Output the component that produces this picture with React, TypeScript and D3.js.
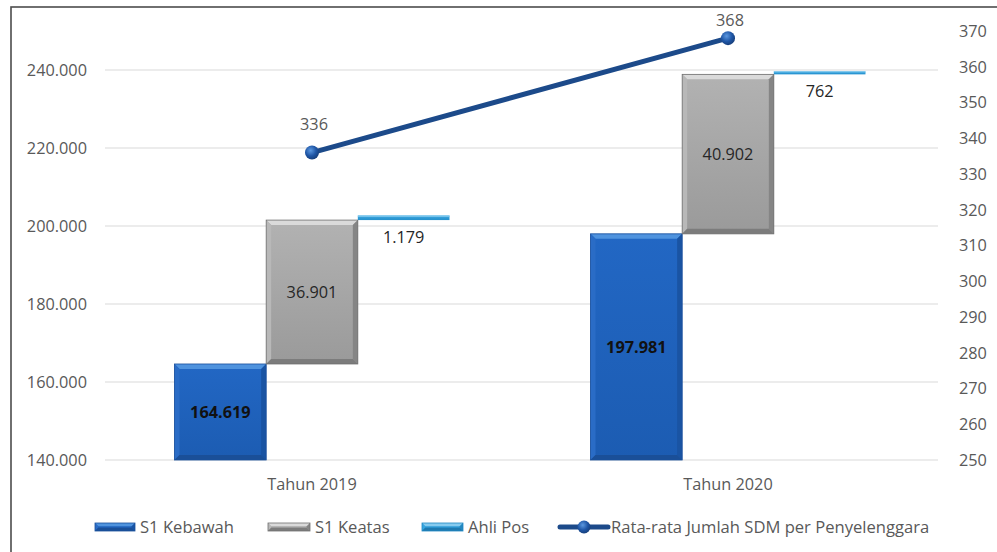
import React from "react";
import * as d3 from "d3";

const categories = ["Tahun 2019", "Tahun 2020"];
const seriesNames = ["S1 Kebawah", "S1 Keatas", "Ahli Pos"];
const s1Kebawah = [164619, 197981];
const s1Keatas = [36901, 40902];
const ahliPos = [1179, 762];
const lineName = "Rata-rata Jumlah SDM per Penyelenggara";
const rataRata = [336, 368];
const leftTicks = [140000, 160000, 180000, 200000, 220000, 240000];
const rightTicks = [250, 260, 270, 280, 290, 300, 310, 320, 330, 340, 350, 360, 370];

const W = 997;
const H = 552;
const FONT = "'Open Sans', sans-serif";
const GREY = "#595959";

const locale = d3.formatLocale({ decimal: ",", thousands: ".", grouping: [3], currency: ["Rp", ""] });
const fmt = locale.format(",d");

const palette = [
  { id: "gb", main0: "#2267c4", main1: "#1c5cb2", top: "#4f93de", left: "#2a6cc6", right: "#1a54a3", bottom: "#1a4f98", stroke: "#1b509c" },
  { id: "gg", main0: "#b2b2b2", main1: "#9a9a9a", top: "#dadada", left: "#b8b8b8", right: "#858585", bottom: "#7c7c7c", stroke: "#707070" },
  { id: "gc", main0: "#36a6e0", main1: "#2690cc", top: "#86cbef", left: "#36a6e0", right: "#2488c0", bottom: "#1e7ab0", stroke: "#2288c2" },
];

function BevelBar({ x, y, w, h, c }: { x: number; y: number; w: number; h: number; c: any }) {
  const b = Math.min(5, h / 2.5, w / 4);
  if (h < 8) {
    return (
      <g>
        <rect x={x} y={y} width={w} height={h} fill={`url(#${c.id})`} />
        <rect x={x} y={y} width={w} height={Math.max(1, h * 0.35)} fill={c.top} opacity={0.8} />
      </g>
    );
  }
  return (
    <g>
      <rect x={x} y={y} width={w} height={h} fill={`url(#${c.id})`} />
      <polygon points={`${x},${y} ${x + w},${y} ${x + w - b},${y + b} ${x + b},${y + b}`} fill={c.top} />
      <polygon points={`${x},${y} ${x + b},${y + b} ${x + b},${y + h - b} ${x},${y + h}`} fill={c.left} />
      <polygon points={`${x + w},${y} ${x + w - b},${y + b} ${x + w - b},${y + h - b} ${x + w},${y + h}`} fill={c.right} />
      <polygon points={`${x},${y + h} ${x + b},${y + h - b} ${x + w - b},${y + h - b} ${x + w},${y + h}`} fill={c.bottom} />
      <rect x={x} y={y} width={w} height={h} fill="none" stroke={c.stroke} strokeWidth={0.8} />
    </g>
  );
}

export default function App() {
  const plotLeft = 104;
  const plotRight = 936;
  const gridLeft = 105;
  const gridRight = 938;

  const x = d3.scaleBand<string>().domain(categories).range([plotLeft, plotRight]).padding(0);
  const groupW = x.bandwidth() * 0.661;
  const inner = d3.scaleBand<string>().domain(seriesNames).range([0, groupW]).padding(0);
  const yL = d3.scaleLinear().domain([140000, 240000]).range([460, 70]);
  const yR = d3.scaleLinear().domain([250, 370]).range([460, 31]);

  const rows = categories.map((cat, i) => ({
    cat,
    "S1 Kebawah": s1Kebawah[i],
    "S1 Keatas": s1Keatas[i],
    "Ahli Pos": ahliPos[i],
  }));
  const stacked = d3.stack<any>().keys(seriesNames)(rows);

  const cx = (cat: string) => (x(cat) as number) + x.bandwidth() / 2;
  const line = d3
    .line<number>()
    .x((_, i) => cx(categories[i]))
    .y((d) => yR(d));

  const legendItems = [
    { label: seriesNames[0], sx: 95, sw: 40, tx: 140, kind: 0 },
    { label: seriesNames[1], sx: 268, sw: 42, tx: 315, kind: 1 },
    { label: seriesNames[2], sx: 422, sw: 41, tx: 468, kind: 2 },
    { label: lineName, sx: 560, sw: 48, tx: 611, kind: 3 },
  ];

  return (
    <svg width={W} height={H} style={{ position: "absolute", left: 0, top: 0, background: "#fff" }} fontFamily={FONT}>
      <defs>
        <radialGradient id="mk" cx="40%" cy="35%" r="65%">
          <stop offset="0%" stopColor="#5c98e0" />
          <stop offset="60%" stopColor="#1f56a6" />
          <stop offset="100%" stopColor="#173f7c" />
        </radialGradient>
        {palette.map((p) => (
          <linearGradient key={p.id} id={p.id} x1="0" y1="0" x2="0" y2="1">
            <stop offset="0%" stopColor={p.main0} />
            <stop offset="100%" stopColor={p.main1} />
          </linearGradient>
        ))}
      </defs>
      <rect x={0} y={0} width={W} height={H} fill="#fff" />
      {/* chart frame */}
      <rect x={11} y={7} width={W + 10} height={H + 10} fill="none" stroke="#4d4d4d" strokeWidth={1.6} />

      {/* gridlines */}
      {leftTicks.map((t) => (
        <line key={t} x1={gridLeft} x2={gridRight} y1={yL(t)} y2={yL(t)} stroke="#d9d9d9" strokeWidth={1} />
      ))}

      {/* left axis labels */}
      {leftTicks.map((t) => (
        <text key={t} x={87} y={yL(t)} dy="0.36em" textAnchor="end" fontSize={16.3} fill={GREY}>
          {fmt(t)}
        </text>
      ))}
      {/* right axis labels */}
      {rightTicks.map((t) => (
        <text key={t} x={959} y={yR(t)} dy="0.36em" textAnchor="start" fontSize={16.3} fill={GREY}>
          {t}
        </text>
      ))}

      {/* bars */}
      {stacked.map((s, si) =>
        s.map((d, i) => {
          const cat = categories[i];
          const bx = (x(cat) as number) + (x.bandwidth() - groupW) / 2 + (inner(seriesNames[si]) as number);
          const bw = inner.bandwidth();
          const yTop = yL(d[1]);
          const yBot = si === 0 ? yL(140000) : yL(d[0]);
          return <BevelBar key={`${si}-${i}`} x={bx} y={yTop} w={bw} h={yBot - yTop} c={palette[si]} />;
        })
      )}

      {/* bar labels */}
      {stacked.map((s, si) =>
        s.map((d, i) => {
          const cat = categories[i];
          const bx = (x(cat) as number) + (x.bandwidth() - groupW) / 2 + (inner(seriesNames[si]) as number);
          const bw = inner.bandwidth();
          const yTop = yL(d[1]);
          const yBot = si === 0 ? yL(140000) : yL(d[0]);
          const val = d[1] - d[0];
          const ly = si === 2 ? yBot + 17 : (yTop + yBot) / 2;
          return (
            <text
              key={`l-${si}-${i}`}
              x={bx + bw / 2}
              y={ly}
              dy="0.36em"
              textAnchor="middle"
              fontSize={16.3}
              fontWeight={si === 0 ? 700 : 400}
              fill={si === 0 ? "#111" : "#262626"}
            >
              {fmt(val)}
            </text>
          );
        })
      )}

      {/* line */}
      <path d={line(rataRata) as string} fill="none" stroke="#1c4a8a" strokeWidth={5} strokeLinecap="round" />
      {rataRata.map((v, i) => (
        <circle key={i} cx={cx(categories[i])} cy={yR(v)} r={7} fill="url(#mk)" />
      ))}
      {rataRata.map((v, i) => (
        <text
          key={`rl-${i}`}
          x={cx(categories[i]) + 2}
          y={Math.max(yR(v) - 28, 20)}
          dy="0.36em"
          textAnchor="middle"
          fontSize={16.3}
          fill={GREY}
        >
          {v}
        </text>
      ))}

      {/* category labels */}
      {categories.map((c) => (
        <text key={c} x={cx(c)} y={484} dy="0.36em" textAnchor="middle" fontSize={16.3} fill={GREY}>
          {c}
        </text>
      ))}

      {/* legend */}
      {legendItems.map((it) => (
        <g key={it.label}>
          {it.kind < 3 ? (
            <BevelBar x={it.sx} y={523} w={it.sw} h={8} c={palette[it.kind]} />
          ) : (
            <g>
              <line x1={it.sx} x2={it.sx + it.sw} y1={527} y2={527} stroke="#1c4a8a" strokeWidth={5} strokeLinecap="round" />
              <circle cx={it.sx + it.sw / 2} cy={527} r={6.5} fill="url(#mk)" />
            </g>
          )}
          <text x={it.tx} y={527} dy="0.36em" fontSize={16.6} fill={GREY}>
            {it.label}
          </text>
        </g>
      ))}
    </svg>
  );
}
